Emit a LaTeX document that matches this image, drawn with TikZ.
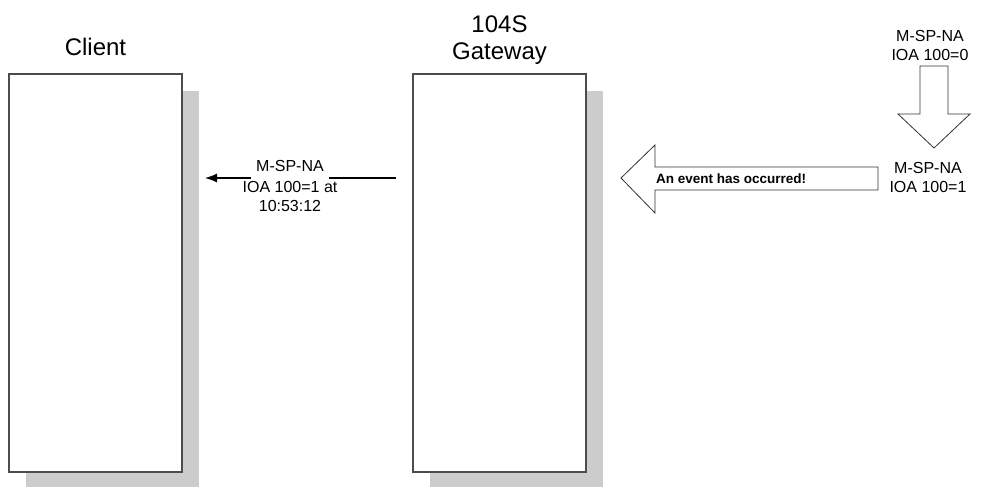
\documentclass[tikz,border=0pt]{standalone}
\usepackage{fontspec}
\setmainfont{Liberation Sans}
\usetikzlibrary{positioning,arrows.meta,shadows}

\begin{document}
\begin{tikzpicture}[x=1pt,y=-1pt,
    panel/.style={draw=black!70,line width=1.4pt,fill=white,minimum width=173pt,minimum height=398pt,inner sep=0pt,
      drop shadow={shadow xshift=17pt,shadow yshift=-17pt,fill=black!20,opacity=1}},
    title/.style={font=\fontsize{24}{27}\selectfont,align=center,inner sep=0pt},
    msg/.style={font=\fontsize{16}{19}\selectfont,align=center,inner sep=0pt},
    block/.style={draw=black!80,line width=0.8pt,fill=white,line join=miter}]
  \useasboundingbox (0,0) rectangle (985,487);
  % the two panels
  \node[panel] (client) at (95.5,273) {};
  \node[panel] (gateway) at (499.5,273) {};
  \node[title] (clientlbl) at (95.5,47) {Client};
  \node[title] (gatewaylbl) at (499.5,40) {104S\\Gateway};
  % message sent to the client
  \coordinate (gwout) at (396,178);
  \coordinate (clin) at (205,178);
  \node[msg,inner xsep=5pt] (msgtop) at (290,166) {M-SP-NA};
  \node[msg] (msgbot) at (290,196) {IOA 100=1 at\\10:53:12};
  \draw[line width=1.2pt] (gwout) -- (msgtop.east |- gwout);
  \draw[line width=1.2pt,-{Latex[length=12pt,width=9pt]}] (msgtop.west |- gwout) -- (clin);
  % value change on the right
  \node[msg] (oldval) at (930,45) {M-SP-NA\\IOA 100=0};
  \node[msg] (newval) at (928,177) {M-SP-NA\\IOA 100=1};
  \draw[block] (920,66) -- (948,66) -- (948,114) -- (970,114) -- (934,148)
    -- (898,114) -- (920,114) -- cycle;
  \draw[block] (621,178) -- (655,145) -- (655,167) -- (878,167) -- (878,190)
    -- (655,190) -- (655,213) -- cycle;
  \node[font=\bfseries\fontsize{13.5}{16}\selectfont,anchor=west,inner sep=0pt] (event) at (656,179) {An event has occurred!};
\end{tikzpicture}
\end{document}
